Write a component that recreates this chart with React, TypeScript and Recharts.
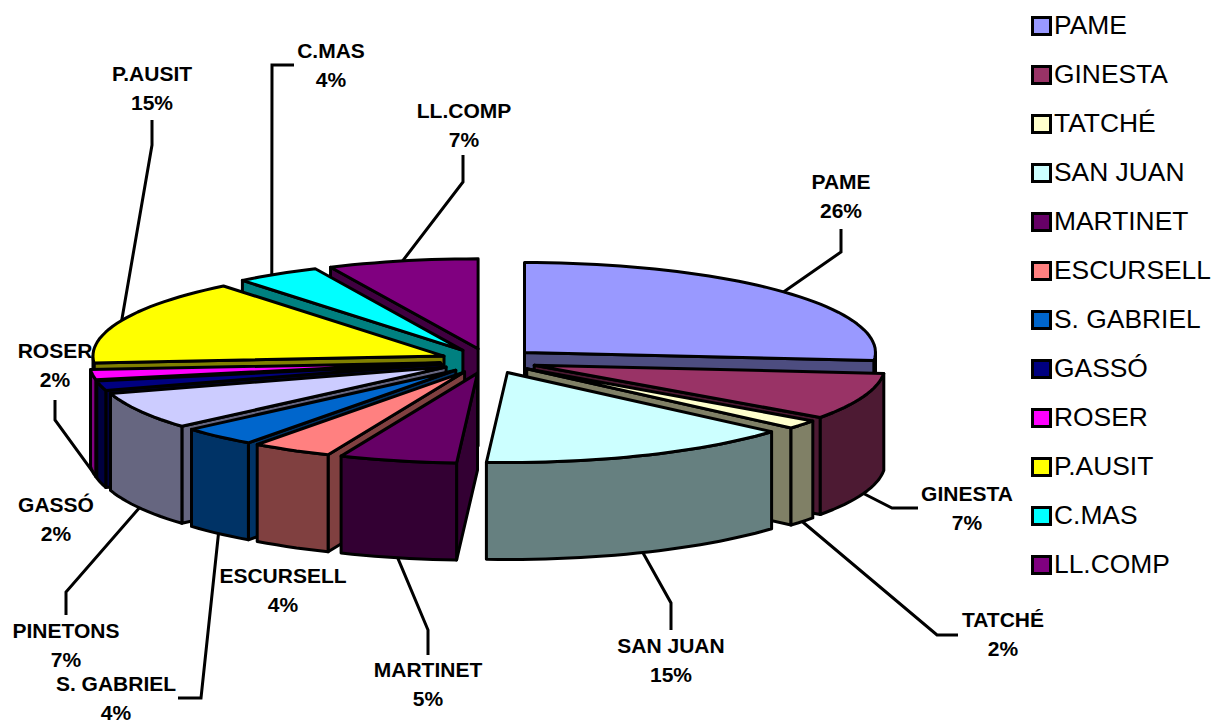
import React from 'react';
import { PieChart, Pie, Legend } from 'recharts';

const CATEGORIES = ['PAME', 'GINESTA', 'TATCHÉ', 'SAN JUAN', 'MARTINET', 'ESCURSELL', 'S. GABRIEL', 'PINETONS', 'GASSÓ', 'ROSER', 'P.AUSIT', 'C.MAS', 'LL.COMP'];
const SHARES = [26.4, 8.4, 1.6, 14.5, 5.4, 3.7, 3.5, 6.7, 1.7, 1.8, 15.4, 3.9, 6.9];
const PERCENT_LABELS = [26, 7, 2, 15, 5, 4, 4, 7, 2, 2, 15, 4, 7];
const COLORS = ['#9999FF', '#993366', '#FFFFCC', '#CCFFFF', '#660066', '#FF8080', '#0066CC', '#CCCCFF', '#000080', '#FF00FF', '#FFFF00', '#00FFFF', '#800080'];
const NOT_IN_LEGEND = ['PINETONS'];
// back-to-front painting order (indexes into CATEGORIES)
const PAINT_ORDER = [0, 1, 2, 3, 12, 11, 10, 9, 8, 7, 6, 5, 4];

// layout of callouts: text centre x, first line y, optional elbow and end of leader
type Callout = { x: number; y: number; path?: [number, number][]; t?: number };
const CALLOUTS: Callout[] = [
  { x: 841, y: 189, path: [[841, 252], [841, 229]] },
  { x: 967, y: 501, path: [[892, 508], [918, 508]] },
  { x: 1003, y: 627, path: [[937, 635], [958, 635]] },
  { x: 671, y: 653, path: [[671, 603], [671, 630]] },
  { x: 428, y: 677, path: [[428, 630], [428, 655]] },
  { x: 283, y: 583 },
  { x: 116, y: 691, path: [[201, 698], [178, 698]] },
  { x: 66, y: 638, path: [[66, 592], [66, 615]] },
  { x: 56, y: 512 },
  { x: 55, y: 358, path: [[55, 420], [55, 400]] },
  { x: 152, y: 81, path: [[152, 145], [152, 120]] },
  { x: 331, y: 58, path: [[272, 65], [294, 65]], t: 327 },
  { x: 464, y: 118, path: [[463, 182], [463, 155]] },
];

const rows = CATEGORIES.map((name, i) => ({ name, value: SHARES[i], fill: COLORS[i] }));

const RADIUS = 351;
const SQUASH = 90 / RADIUS;
const EXPLODE = 48.6;
const DEPTH = 97;
const RAD = Math.PI / 180;
const STROKE = 3;

const darken = (hex: string) => {
  const n = parseInt(hex.slice(1), 16);
  const c = [(n >> 16) & 255, (n >> 8) & 255, n & 255].map((v) => Math.round(v * 0.5));
  return `rgb(${c[0]},${c[1]},${c[2]})`;
};

type P = [number, number];
const geom = (p: any) => {
  const a = 90 - p.startAngle;
  const b = 90 - p.endAngle;
  const m = (a + b) / 2;
  const ox = p.cx + EXPLODE * Math.sin(m * RAD);
  const oy = p.cy - EXPLODE * SQUASH * Math.cos(m * RAD);
  const r = p.outerRadius;
  const at = (t: number): P => [ox + r * Math.sin(t * RAD), oy - r * SQUASH * Math.cos(t * RAD)];
  return { a, b, m, ox, oy, at };
};
const arc = (from: number, to: number, at: (t: number) => P) => {
  const pts: P[] = [];
  const n = Math.max(1, Math.ceil((to - from) / 2));
  for (let i = 0; i <= n; i++) pts.push(at(from + ((to - from) * i) / n));
  return pts;
};
const str = (pts: P[]) => pts.map((q) => `${q[0].toFixed(1)},${q[1].toFixed(1)}`).join(' ');
const down = (q: P): P => [q[0], q[1] + DEPTH];

const Slab = (p: any) => {
  const { a, b, ox, oy, at } = geom(p);
  const apex: P = [ox, oy];
  const wall = darken(p.fill);
  const style = { stroke: '#000', strokeWidth: STROKE, strokeLinejoin: 'round' as const };
  const cut = (t: number) => {
    const e = at(t);
    return <polygon points={str([apex, e, down(e), down(apex)])} fill={wall} {...style} />;
  };
  const f0 = Math.max(a, 90);
  const f1 = Math.min(b, 270);
  const rim = f1 > f0 ? arc(f0, f1, at) : null;
  return (
    <g>
      {Math.sin(b * RAD) > 0.01 && cut(b)}
      {Math.sin(a * RAD) < -0.01 && cut(a)}
      {rim && <polygon points={str([...rim, ...rim.slice().reverse().map(down)])} fill={wall} {...style} />}
      <polygon points={str([apex, ...arc(a, b, at)])} fill={p.fill} {...style} />
    </g>
  );
};

const onlySlice = (k: number) => (p: any) => (p.index === k ? <Slab {...p} /> : <g />);

const Callouts = (p: any) => {
  const i = p.index;
  const c = CALLOUTS[i];
  const { m, at } = geom(p);
  const rimPt = at(c.t ?? m);
  const start = Math.cos(m * RAD) < 0 || Math.abs(m - 265) < 10 ? down(rimPt) : rimPt;
  return (
    <g>
      {c.path && <polyline points={str([start, ...c.path])} fill="none" stroke="#000" strokeWidth={STROKE} />}
      <text x={c.x} y={c.y} textAnchor="middle" fontFamily="Liberation Sans" fontWeight="bold" fontSize={21} fill="#000">
        <tspan x={c.x}>{p.name}</tspan>
        <tspan x={c.x} dy={28.5}>{`${PERCENT_LABELS[i]}%`}</tspan>
      </text>
    </g>
  );
};

const LegendBox = ({ payload }: any) => {
  const seen = new Set<string>();
  const items = (payload || []).filter((e: any) => {
    if (seen.has(e.value) || NOT_IN_LEGEND.includes(e.value)) return false;
    seen.add(e.value);
    return true;
  });
  return (
    <div style={{ fontFamily: 'Liberation Sans', fontSize: 26.4, color: '#000', lineHeight: '49px' }}>
      {items.map((e: any) => (
        <div key={e.value} style={{ display: 'flex', alignItems: 'center', height: 49, whiteSpace: 'nowrap' }}>
          <span style={{ display: 'inline-block', boxSizing: 'border-box', width: 21, height: 20, marginRight: 2, background: e.payload?.fill ?? e.color, border: '3px solid #000' }} />
          {e.value}
        </div>
      ))}
    </div>
  );
};

export default function App() {
  return (
    <div style={{ position: 'absolute', left: 0, top: 0 }}>
      <PieChart width={1215} height={722} margin={{ top: 0, right: 0, bottom: 0, left: 0 }}>
        {PAINT_ORDER.map((k) => (
          <Pie key={k} data={rows} dataKey="value" nameKey="name" cx={488.6} cy={361} innerRadius={0} outerRadius={RADIUS}
            startAngle={90} endAngle={-270} stroke="none" isAnimationActive={false} shape={onlySlice(k)} />
        ))}
        <Pie data={rows} dataKey="value" nameKey="name" cx={488.6} cy={361} innerRadius={0} outerRadius={RADIUS}
          startAngle={90} endAngle={-270} stroke="none" isAnimationActive={false} shape={() => <g />} label={Callouts} labelLine={false} />
        <Legend itemSorter={null} content={<LegendBox />} wrapperStyle={{ position: 'absolute', left: 1031, top: 1, width: 184, bottom: 'auto', right: 'auto' }} />
      </PieChart>
    </div>
  );
}
